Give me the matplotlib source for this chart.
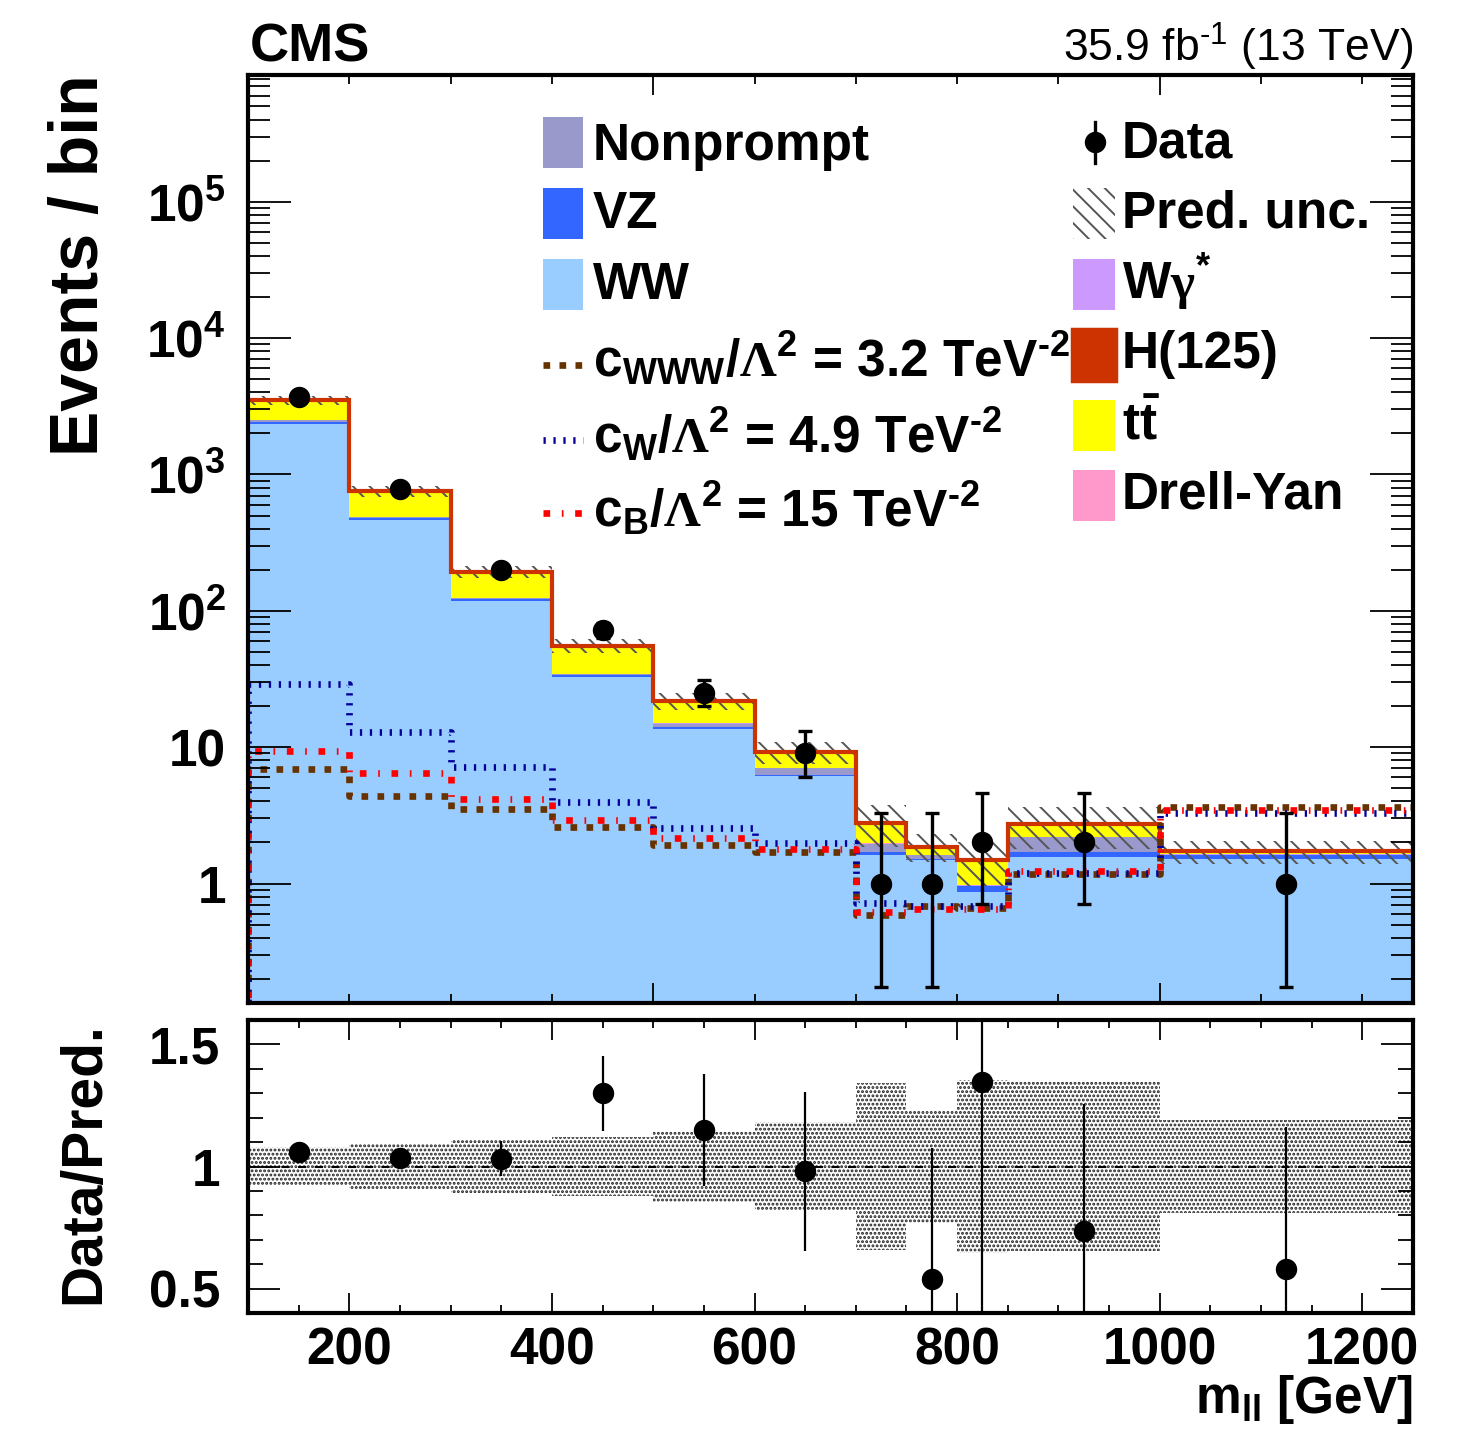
import numpy as np
import matplotlib
matplotlib.use('Agg')
import matplotlib.pyplot as plt
from matplotlib.patches import Rectangle
from matplotlib.lines import Line2D
from matplotlib.ticker import MultipleLocator, LogLocator, FixedLocator, FuncFormatter, NullFormatter

plt.rcParams['font.family'] = ['Liberation Sans', 'DejaVu Sans']
plt.rcParams['font.weight'] = 'bold'
plt.rcParams['mathtext.fontset'] = 'custom'
plt.rcParams['mathtext.rm'] = 'Liberation Sans:bold'
plt.rcParams['mathtext.it'] = 'Liberation Sans:bold'
plt.rcParams['mathtext.bf'] = 'Liberation Sans:bold'
plt.rcParams['mathtext.sf'] = 'Liberation Serif'
plt.rcParams['hatch.linewidth'] = 1.4

# ---------------- data ----------------
edges = [100, 200, 300, 400, 500, 600, 700, 750, 800, 850, 1000, 1250]

ww        = [2340, 466, 118, 32.8, 13.5, 6.1, 1.62, 1.48, 0.86, 1.57, 1.52]
vz        = [65, 10, 4.0, 1.0, 0.45, 0.15, 0.09, 0.03, 0.10, 0.14, 0.10]
nonprompt = [95, 8, 2.5, 0.6, 0.95, 0.75, 0.24, 0.11, 0.005, 0.49, 0.01]
wgstar    = [6, 1.5, 0.4, 0.1, 0.05, 0.02, 0.01, 0.005, 0.005, 0.005, 0.005]
drellyan  = [4, 1.0, 0.3, 0.1, 0.03, 0.01, 0.005, 0.005, 0.005, 0.005, 0.005]
ttbar     = [980, 263, 67, 20.3, 6.5, 2.0, 0.78, 0.2, 0.49, 0.47, 0.06]
higgs     = [20, 5, 1.5, 0.5, 0.3, 0.15, 0.05, 0.03, 0.02, 0.04, 0.02]

pred_unc  = [0.078, 0.094, 0.108, 0.122, 0.144, 0.183, 0.34, 0.231, 0.356, 0.347, 0.19]

c_www = [6.87, 4.38, 3.53, 2.59, 1.92, 1.71, 0.59, 0.68, 0.66, 1.17, 3.66]
c_w   = [28.9, 12.9, 7.19, 3.95, 2.54, 1.97, 0.72, 0.68, 0.68, 1.19, 3.27]
c_b   = [9.36, 6.45, 4.14, 2.94, 2.14, 1.79, 0.62, 0.65, 0.65, 1.24, 3.46]

data    = [3720, 780, 200, 72, 25, 9, 1, 1, 2, 2, 1]
data_lo = [3659, 752, 186, 63.5, 20.0, 6.06, 0.173, 0.173, 0.708, 0.708, 0.173]
data_hi = [3782, 809, 215, 81.5, 31.1, 13.1, 3.30, 3.30, 4.64, 4.64, 3.30]

main_yticks = [1, 10, 100, 1000, 1e4, 1e5]
ratio_yticks = [0.5, 1.0, 1.5]

# ---------------- figure ----------------
W, H = 1459, 1441
fig = plt.figure(figsize=(W / 100, H / 100), dpi=100)

def fx(p):
    return p / W

def fy(p):
    return 1 - p / H

ax = fig.add_axes([fx(248), fy(1003), (1413 - 248) / W, (1003 - 75) / H])
rax = fig.add_axes([fx(248), fy(1313), (1413 - 248) / W, (1313 - 1020) / H])

edges_a = np.array(edges, float)
centers = 0.5 * (edges_a[:-1] + edges_a[1:])
n = len(centers)
YMIN, YMAX = 0.133, 8.5e5

comps = [(ww, '#99ccff'), (vz, '#3366ff'), (nonprompt, '#9999cc'),
         (wgstar, '#cc99ff'), (drellyan, '#ff99cc'), (ttbar, '#ffff00'),
         (higgs, '#cc3300')]
bottom = np.full(n, 1e-3)
for vals, col in comps:
    top = bottom + np.array(vals, float)
    ax.stairs(top, edges_a, baseline=bottom, fill=True, facecolor=col,
              edgecolor='none', linewidth=0, zorder=1)
    bottom = top
total = bottom

unc = np.array(pred_unc)
ax.stairs(total * (1 + unc), edges_a, baseline=total * (1 - unc), fill=True,
          facecolor='none', edgecolor='#555555', hatch='\\\\', linewidth=0, zorder=1.5)
ax.stairs(total, edges_a, baseline=None, color='#cc3300', linewidth=3, zorder=1.6)

def step_xy(vals):
    x = np.repeat(edges_a, 2)[1:-1]
    y = np.repeat(np.array(vals, float), 2)
    return np.concatenate([[edges_a[0]], x]), np.concatenate([[0.05], y])

x, y = step_xy(c_www)
ax.plot(x, y, color='#663300', lw=4.8, ls=(0, (1.0, 1.4)), zorder=2.1)
x, y = step_xy(c_w)
ax.plot(x, y, color='#000099', lw=4.8, ls=(0, (0.34, 1.15)), zorder=2.2)
x, y = step_xy(c_b)
ax.plot(x, y, color='#ff0000', lw=4.8, ls=(0, (1.0, 1.75, 0.25, 1.75)), zorder=2.3)

d = np.array(data, float)
dlo = np.array(data_lo)
dhi = np.array(data_hi)
ax.errorbar(centers, d, yerr=[d - dlo, dhi - d], fmt='o', color='k', ms=14.4,
            elinewidth=2.4, capsize=4.7, capthick=2.4, zorder=5)

ax.set_yscale('log')
ax.set_xlim(edges_a[0], edges_a[-1])
ax.set_ylim(YMIN, YMAX)
ax.set_axisbelow(False)
ax.xaxis.set_major_locator(MultipleLocator(500))
ax.xaxis.set_minor_locator(MultipleLocator(100))
ax.yaxis.set_major_locator(FixedLocator(main_yticks))
ax.yaxis.set_minor_locator(LogLocator(base=10, subs=np.arange(2, 10), numticks=20))

def yfmt(v, p):
    e = int(round(np.log10(v)))
    if e == 0:
        return '1'
    if e == 1:
        return '10'
    return r'$10^{%d}$' % e

ax.yaxis.set_major_formatter(FuncFormatter(yfmt))
ax.yaxis.set_minor_formatter(NullFormatter())
ax.tick_params(axis='x', which='both', direction='in', top=True, bottom=True, labelbottom=False)
ax.tick_params(axis='x', which='major', length=14.4, width=1.3)
ax.tick_params(axis='x', which='minor', length=6.5, width=1.3)
ax.tick_params(axis='y', which='both', direction='in', left=True, right=True)
ax.tick_params(axis='y', which='major', length=31, width=1.3, labelsize=37, pad=16)
ax.tick_params(axis='y', which='minor', length=16, width=1.3)
for s in ax.spines.values():
    s.set_linewidth(3)
    s.set_zorder(6)

# ---------------- ratio ----------------
ratio = d / total
rerr = np.sqrt(d) / total
m = ratio > 0.4
rax.stairs(1 + unc, edges_a, baseline=1 - unc, fill=True, facecolor='none',
           edgecolor='#202020', hatch='....', linewidth=0, zorder=1)
rax.axhline(1.0, color='k', lw=1.5, ls=(0, (4, 4)), zorder=2)
rax.errorbar(centers[m], ratio[m], yerr=rerr[m], fmt='o', color='k', ms=14.4,
             elinewidth=1.6, capsize=0, zorder=5)
rax.set_xlim(edges_a[0], edges_a[-1])
rax.set_ylim(0.4, 1.6)
rax.xaxis.set_major_locator(MultipleLocator(200))
rax.xaxis.set_minor_locator(MultipleLocator(50))
rax.yaxis.set_major_locator(FixedLocator(ratio_yticks))
rax.yaxis.set_minor_locator(MultipleLocator(0.1))
rax.yaxis.set_major_formatter(FuncFormatter(lambda v, p: '%g' % v))
rax.tick_params(axis='both', which='both', direction='in', top=True, bottom=True, left=True, right=True)
rax.tick_params(axis='x', which='major', length=14.4, width=1.3, labelsize=37, pad=10)
rax.tick_params(axis='x', which='minor', length=6, width=1.3)
rax.tick_params(axis='y', which='major', length=23, width=1.3, labelsize=37, pad=20)
rax.tick_params(axis='y', which='minor', length=11, width=1.3)
for s in rax.spines.values():
    s.set_linewidth(3)
    s.set_zorder(6)

# ---------------- titles ----------------
HY = '\u2010'
fig.text(fx(250), fy(62), 'CMS', fontsize=39, weight='bold', va='baseline')
fig.text(fx(1413), fy(62), r'35.9 fb$^{\mathregular{' + HY + r'1}}$ (13 TeV)', fontsize=32,
         weight='normal', ha='right', va='baseline')
fig.text(fx(80), fy(74), 'Events / bin', fontsize=49, rotation=90, ha='center', va='top')
fig.text(fx(84), fy(1163), 'Data/Pred.', fontsize=41, rotation=90, ha='center', va='center')
fig.text(fx(1413), fy(1413), r'm$_{\mathregular{ll}}$ [GeV]', fontsize=37, ha='right', va='baseline')

# ---------------- legend ----------------
LFS = 37

def box(x0, y0, x1, y1, fc, **kw):
    fig.add_artist(Rectangle((fx(x0), fy(y1)), (x1 - x0) / W, (y1 - y0) / H,
                             transform=fig.transFigure, facecolor=fc, **kw))

left_entries = [('Nonprompt', '#9999cc', 117, 160),
                ('VZ', '#3366ff', 188, 228),
                ('WW', '#99ccff', 259, 299)]
for lab, col, ytop, ybase in left_entries:
    box(543, ytop, 583, ytop + 51, col, edgecolor='none')
    fig.text(fx(593), fy(ybase), lab, fontsize=LFS, va='baseline')

sig_entries = [(r'$\mathregular{c}_{\mathregular{WWW}}/\mathsf{\Lambda}^{2}$ = 3.2 TeV$^{\mathregular{' + HY + '2}}$',
                '#663300', (0, (1.0, 1.4)), 365, 378),
               (r'$\mathregular{c}_{\mathregular{W}}/\mathsf{\Lambda}^{2}$ = 4.9 TeV$^{\mathregular{' + HY + '2}}$',
                '#000099', (0, (0.34, 1.15)), 440, 454),
               (r'$\mathregular{c}_{\mathregular{B}}/\mathsf{\Lambda}^{2}$ = 15 TeV$^{\mathregular{' + HY + '2}}$',
                '#ff0000', (0, (1.0, 1.75, 0.25, 1.75)), 513, 528)]
for lab, col, ls, yl, ybase in sig_entries:
    fig.add_artist(Line2D([fx(543), fx(583)], [fy(yl), fy(yl)], transform=fig.transFigure,
                          color=col, lw=4.8, ls=ls))
    fig.text(fx(593), fy(ybase), lab, fontsize=LFS, va='baseline')

# right column
fig.add_artist(Line2D([fx(1095), fx(1095)], [fy(122), fy(163)], transform=fig.transFigure,
                      color='k', lw=2.4))
fig.add_artist(Line2D([fx(1095)], [fy(142)], transform=fig.transFigure, color='k',
                      marker='o', ms=14.4, ls='none'))
fig.text(fx(1122), fy(158), 'Data', fontsize=LFS, va='baseline')
box(1073, 188, 1115, 239, 'none', edgecolor='#555555', hatch='\\\\', linewidth=0)
fig.text(fx(1122), fy(228), 'Pred. unc.', fontsize=LFS, va='baseline')
box(1073, 259, 1115, 310, '#cc99ff', edgecolor='none')
fig.text(fx(1122), fy(299), r'W$\mathsf{\gamma}^{*}$', fontsize=LFS, va='baseline')
box(1072, 329, 1116, 381, '#cc3300', edgecolor='#cc3300', linewidth=2.5)
fig.text(fx(1122), fy(368), 'H(125)', fontsize=LFS, va='baseline')
box(1073, 400, 1115, 451, '#ffff00', edgecolor='none')
fig.text(fx(1122), fy(439), r'$\mathregular{t}\bar{\mathregular{t}}$', fontsize=LFS, va='baseline')
box(1073, 470, 1115, 521, '#ff99cc', edgecolor='none')
fig.text(fx(1122), fy(509), 'Drell-Yan', fontsize=LFS, va='baseline')

fig.savefig('out.png', dpi=100)
